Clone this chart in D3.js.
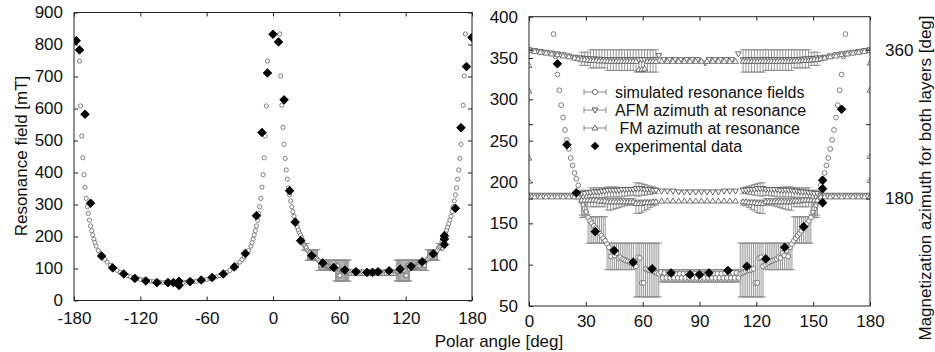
<!DOCTYPE html>
<html lang="en">
<head>
<meta charset="UTF-8">
<title>Resonance field vs polar angle</title>
<script src="https://cdn.jsdelivr.net/npm/d3@7"></script>
<style>
    body { margin: 0; background: #fff; }
    svg { display: block; }
    text { font-family: "Liberation Sans", Arial, Helvetica, sans-serif; fill: #111; }
</style>
</head>
<body>
<svg width="935" height="352"></svg>
<script>
// simulated resonance field, negative polar angles (no error bars) [deg, mT]
const simNeg = [
    [-175,748],[-174,608],[-173,514],[-172,446],[-171,393],[-170,354],[-169,319],[-168,293],[-167,272],[-166,251],
    [-165,233],[-164,218],[-163,205],[-162,192],[-161,181],[-160,170],[-158,156],[-156,146],[-154,137],[-152,128],
    [-150,120],[-147,110],[-144,101],[-141,94],[-138,88],[-135,83],[-132,78],[-129,74],[-126,71],[-123,68],
    [-120,66],[-117,64],[-114,62],[-111,60],[-108,59],[-105,58],[-102,57],[-99,56],[-96,56],[-93,56],
    [-90,56],[-87,56],[-84,56],[-81,57],[-78,57],[-75,58],[-72,59],[-69,60],[-66,62],[-63,64],
    [-60,66],[-57,68],[-54,71],[-51,74],[-48,78],[-45,83],[-42,88],[-39,94],[-36,101],[-33,110],
    [-30,120],[-28,128],[-26,137],[-24,146],[-22,156],[-20,170],[-19,181],[-18,192],[-17,205],[-16,218],
    [-15,233],[-14,251],[-13,272],[-12,293],[-11,319],[-10,354],[-9,393],[-8,446],[-7,514],[-6,608],[-5,748]
];

// simulated resonance field, positive polar angles [deg, mT, errLow, errHigh]
const simPos = [
    [6,833],[7,702],[8,610],[9,541],[10,488],[11,444],[12,408],[13,379],[14,352],[15,330],
    [16,311],[17,293],[18,278],[19,263],[20,251],[21,240],[22,229],[23,220],[24,211],[25,204],[26,196],[27,186],
    [27.8,176,157,178],[28.6,172,157,178],[29.4,168,157,178],[30.2,164,157,178],
    [31.2,157,126,158],[32.2,153,126,158],[33.2,150,126,158],[34.2,147,126,158],[35.2,144,126,158],
    [36.2,141,126,158],[37.2,138,126,158],[38.2,135,126,158],[39.2,132,126,158],[40.2,129,126,158],
    [41.2,125,94,126],[42.2,121,94,126],[43.2,110,94,126],[44.2,117,94,126],[45.2,111,94,126],
    [46.2,114,94,126],[47.2,108,94,126],[48.2,109,94,126],[49.2,107,94,126],[50.2,106,94,126],
    [51.2,105,94,126],[52.2,104,94,126],[53.2,103,94,126],[54.2,102,94,126],[55.2,100,94,126],
    [56.5,98,61,126],[57.5,109,61,126],[58.5,108,61,126],[59.5,78,61,126],[60.5,78,61,126],
    [61.5,95,61,126],[62.5,94,61,126],[63.5,93,61,126],[64.5,93,61,126],[65.5,92,61,126],
    [66.5,91,61,126],[67.5,90,61,126],[68.5,89,61,126],
    [69.5,91,79,94],[70.5,84,79,94],[71.5,90,79,94],[72.5,84,79,94],[73.5,90,79,94],[74.5,84,79,94],
    [75.5,90,79,94],[76.5,84,79,94],[77.5,89,79,94],[78.5,84,79,94],[79.5,89,79,94],[80.5,84,79,94],
    [81.5,89,79,94],[82.5,84,79,94],[83.5,89,79,94],[84.5,84,79,94],[85.5,89,79,94],[86.5,84,79,94],
    [87.5,89,79,94],[88.5,84,79,94],[89.5,89,79,94],[90.5,84,79,94],[91.5,89,79,94],[92.5,84,79,94],
    [93.5,89,79,94],[94.5,84,79,94],[95.5,89,79,94],[96.5,84,79,94],[97.5,89,79,94],[98.5,84,79,94],
    [99.5,89,79,94],[100.5,84,79,94],[101.5,89,79,94],[102.5,84,79,94],[103.5,90,79,94],[104.5,84,79,94],
    [105.5,90,79,94],[106.5,84,79,94],[107.5,90,79,94],[108.5,84,79,94],[109.5,90,79,94],[110.5,84,79,94],
    [111.5,89,61,126],[112.5,90,61,126],[113.5,91,61,126],[114.5,92,61,126],[115.5,93,61,126],
    [116.5,93,61,126],[117.5,94,61,126],[118.5,95,61,126],[119.5,78,61,126],[120.5,78,61,126],
    [121.5,108,61,126],[122.5,109,61,126],[123.5,98,61,126],
    [124.8,100,94,126],[125.8,102,94,126],[126.8,103,94,126],[127.8,104,94,126],[128.8,105,94,126],
    [129.8,106,94,126],[130.8,107,94,126],[131.8,109,94,126],[132.8,108,94,126],[133.8,114,94,126],
    [134.8,111,94,126],[135.8,117,94,126],[136.8,110,94,126],[137.8,121,94,126],[138.8,125,94,126],
    [139.8,129,126,158],[140.8,132,126,158],[141.8,135,126,158],[142.8,138,126,158],[143.8,141,126,158],
    [144.8,144,126,158],[145.8,147,126,158],[146.8,150,126,158],[147.8,153,126,158],[148.8,157,126,158],
    [149.8,164,157,178],[150.6,168,157,178],[151.4,172,157,178],[152.2,176,157,178],
    [153,186],[154,196],[155,204],[156,211],[157,220],[158,229],[159,240],[160,251],[161,263],[162,278],
    [163,293],[164,311],[165,330],[166,352],[167,379],[168,408],[169,444],[170,488],[171,541],[172,610],
    [173,702],[174,833]
];

// AFM azimuth at resonance [deg, deg, errLow, errHigh]
const afmHigh = [
    [0,360],[3,359],[6,358],[9,357],[12,356],[15,355],[18,354],[21,352.5],[24,351],[26,350],
    [27.8,350,341,357],[29.4,349.5,341,357],[31,349.5,341,357],
    [32.5,349,338,360],[34,349,338,360],[35.5,348.5,338,360],[37,348.5,338,360],[38.5,348,338,360],[40,348,338,360],
    [41.5,348,335,360],[43,348,335,360],[44.5,348,335,360],[46,348,335,360],[47.5,348,335,360],
    [49,348,335,360],[50.5,348,335,360],[52,348,335,360],[53.5,348,335,360],[55,348,335,360],
    [56.5,348,333,360],[58,348,333,360],[59.5,348,333,360],[61,348,333,360],[62.5,348,333,360],
    [64,348,333,360],[65.5,348,333,360],[67,348,333,360],
    [68.5,353],[71,348],[74,348],[77,348],[80,348],[83,348],[86,348],[89,348],[93,344],[95,348],
    [98,348],[101,348],[104,348],[107,348],[110.5,355],
    [113,348,333,360],[114.5,348,333,360],[116,348,333,360],[117.5,348,333,360],[119,348,333,360],
    [120.5,348,333,360],[122,348,333,360],[123.5,348,333,360],
    [125,348,335,360],[126.5,348,335,360],[128,348,335,360],[129.5,348,335,360],[131,348,335,360],
    [132.5,348,335,360],[134,348,335,360],[135.5,348,335,360],[137,348,335,360],[138.5,348,335,360],
    [140,348,338,360],[141.5,348,338,360],[143,348.5,338,360],[144.5,348.5,338,360],[146,349,338,360],[147.5,349,338,360],
    [149,349.5,341,357],[150.6,349.5,341,357],[152.2,350,341,357],
    [154,350],[156,351],[159,352.5],[162,354],[165,355],[168,356],[171,357],[174,358],[177,359],[180,360]
];
const afmLow = [
    [0,184],[3,184],[6,184],[9,184],[12,184],[15,184],[18,184],[21,184],[24,184],[26,184],
    [27.8,186,180,190],[29.4,186,180,190],[31,187,180,190],
    [32.5,187,181,193],[34,188,181,193],[35.5,188,181,193],[37,188,181,193],[38.5,189,181,193],[40,189,181,193],
    [41.5,190,182,194],[43,190,182,194],[44.5,190,182,194],[46,190,182,194],[47.5,190,182,193],
    [49,191,182,193],[50.5,191,183,193],[52,191,183,192],[53.5,191,184,192],[55,191,184,192],
    [56.5,192,183,199],[58,192,183,199],[59.5,192,184,198],[61,191,184,197],[62.5,191,185,196],
    [64,191,185,195],[65.5,190,186,194],[67,190,186,193],
    [70,189],[73,189],[76,189],[79,188],[82,188],[85,188],[88,188],[91,188],[94,188],[97,188],
    [100,188],[103,189],[106,189],[109,189],
    [113,190,186,193],[114.5,190,186,194],[116,191,185,195],[117.5,191,185,196],[119,191,184,197],
    [120.5,192,184,198],[122,192,183,199],[123.5,192,183,199],
    [125,191,184,192],[126.5,191,184,192],[128,191,183,192],[129.5,191,183,193],[131,191,182,193],
    [132.5,190,182,193],[134,190,182,194],[135.5,190,182,194],[137,190,182,194],[138.5,190,182,194],
    [140,189,181,193],[141.5,189,181,193],[143,188,181,193],[144.5,188,181,193],[146,188,181,193],[147.5,187,181,193],
    [149,187,180,190],[150.6,186,180,190],[152.2,186,180,190],
    [154,184],[156,184],[159,184],[162,184],[165,184],[168,184],[171,184],[174,184],[177,184],[180,184]
];

// FM azimuth at resonance [deg, deg, errLow, errHigh]
const fmHigh = [
    [0,359],[0,341],[0,310],[0,229],[3,358],[6,357],[9,356],[12,355],[15,354],[18,352.5],[21,351.5],[24,350],[26,349],
    [27.8,348],[29.4,348],[31,347.5],[32.5,347],[34,347],[35.5,347],[37,346.5],[38.5,346.5],[40,346.5],
    [41.5,346],[43,346],[44.5,346],[46,346],[47.5,346],[49,346],[50.5,346],[52,346],[53.5,346],[55,346],
    [56.5,346],[58,336],[59.5,336],[61,337],[62.5,346],[64,346],[65.5,346],[67,346],
    [70,346],[73,346],[76,346],[79,346],[82,346],[85,346],[88,346],[91,346],[94,346],[97,346],
    [100,346],[103,346],[106,346],[109,346],
    [113,346],[114.5,346],[116,346],[117.5,346],[119,346],[120.5,346],[122,346],[123.5,346],
    [125,346],[126.5,346],[128,346],[129.5,346],[131,346],[132.5,346],[134,346],[135.5,346],[137,346],[138.5,346],
    [140,346.5],[141.5,346.5],[143,346.5],[144.5,347],[146,347],[147.5,347],[149,347.5],[150.6,348],[152.2,348],
    [154,349],[156,350],[159,351.5],[162,352.5],[165,354],[168,355],[171,356],[174,357],[177,358],
    [180,359],[180,344],[180,311],[180,231]
];
const fmLow = [
    [0,182],[0,201],[3,182],[6,182],[9,182],[12,182],[15,182],[18,182],[21,182],[24,182],[26,182],
    [27.8,178,160,179],[29.4,178,160,179],[31,178,161,179],
    [32.5,178,170,181],[34,178,170,181],[35.5,178,170,181],[37,177,170,181],[38.5,177,170,181],[40,177,170,181],
    [41.5,176,166,180],[43,176,166,180],[44.5,176,167,180],[46,176,168,180],[47.5,176,169,180],
    [49,176,170,180],[50.5,176,171,180],[52,176,172,180],[53.5,176,172,180],[55,176,173,180],
    [56.5,174,162,178],[58,174,162,178],[59.5,174,163,178],[61,175,165,178],[62.5,175,167,178],
    [64,175,169,178],[65.5,176,171,178],[67,176,172,178],
    [70,177],[73,177],[76,177],[79,177],[82,177],[85,177],[88,177],[91,177],[94,177],[97,177],
    [100,177],[103,177],[106,177],[109,177],
    [113,176,172,178],[114.5,176,171,178],[116,175,169,178],[117.5,175,167,178],[119,175,165,178],
    [120.5,174,163,178],[122,174,162,178],[123.5,174,162,178],
    [125,176,173,180],[126.5,176,172,180],[128,176,172,180],[129.5,176,171,180],[131,176,170,180],
    [132.5,176,169,180],[134,176,168,180],[135.5,176,167,180],[137,176,166,180],[138.5,176,166,180],
    [140,177,170,181],[141.5,177,170,181],[143,177,170,181],[144.5,178,170,181],[146,178,170,181],[147.5,178,170,181],
    [149,178,161,179],[150.6,178,160,179],[152.2,178,160,179],
    [154,182],[156,182],[159,182],[162,182],[165,182],[168,182],[171,182],[174,182],[177,182],[180,182],[180,202]
];

// experimental data [deg, mT]
const expNeg = [
    [-178,812],[-175,783],[-170,582],[-165,304],[-155,139],[-145,102],[-135,83],[-125,69],[-115,61],
    [-105,56],[-95,56],[-90,56],[-85,60],[-85,47],[-75,59],[-65,64],[-55,72],[-45,83],[-35,105],
    [-25,147],[-15,265],[-10,525],[-5,711],[0,832]
];
const expPos = [
    [5,808],[10,627],[15,343],[20,245],[25,187],[35,140],[45,117],[55,103],[65,95],[75,90],[85,88],
    [90,88],[95,90],[105,93],[115,98],[125,107],[135,121],[145,146],[155,175],[155,192],[155,202],
    [165,288],[170,540],[175,731],[180,822]
];

const leftXTicks = [-180,-120,-60,0,60,120,180];
const leftYTicks = [0,100,200,300,400,500,600,700,800,900];
const rightXTicks = [0,30,60,90,120,150,180];
const rightYTicks = [50,100,150,200,250,300,350,400];
const rightY2Ticks = [180,360];

const legendLabels = ["simulated resonance fields", "AFM azimuth at resonance", " FM azimuth at resonance", "experimental data"];

const svg = d3.select("svg");
svg.append("rect").attr("width", 935).attr("height", 352).attr("fill", "#fff");

const xL = d3.scaleLinear().domain([-180, 180]).range([74, 472]);
const yL = d3.scaleLinear().domain([0, 900]).range([300.5, 12.5]);
const xR = d3.scaleLinear().domain([0, 180]).range([529, 870]);
const yR = d3.scaleLinear().domain([50, 400]).range([306, 16.7]);

const FONT = 17;
const LEG_FONT = 16;
const diamond = "M0,-4.3L4.3,0L0,4.3L-4.3,0Z";
const triDown = "M-2.9,-2L2.9,-2L0,3.1Z";
const triUp = "M-2.9,2L2.9,2L0,-3.1Z";

function styleAxis(g) {
    g.select(".domain").remove();
    g.selectAll("line").attr("stroke", "#222");
    g.selectAll("text").attr("font-size", FONT).attr("font-family", '"Liberation Sans", Arial, sans-serif').attr("fill", "#111");
}

function frame(x, y, xt, yt, id, pad) {
    const [x0, x1] = x.range(), [y0, y1] = y.range();
    svg.append("g").attr("transform", `translate(0,${y0})`)
        .call(d3.axisBottom(x).tickValues(xt).tickSize(-4).tickPadding(pad).tickFormat(d => String(d)))
        .call(styleAxis);
    svg.append("g").attr("transform", `translate(0,${y1})`)
        .call(d3.axisTop(x).tickValues(xt).tickSize(-4).tickFormat(""))
        .call(styleAxis);
    svg.append("g").attr("transform", `translate(${x0},0)`)
        .call(d3.axisLeft(y).tickValues(yt).tickSize(-4).tickPadding(11).tickFormat(d => String(d)))
        .call(styleAxis);
    svg.append("clipPath").attr("id", id)
        .append("rect").attr("x", x0).attr("y", y1).attr("width", x1 - x0).attr("height", y0 - y1);
    return svg.append("g").attr("clip-path", `url(#${id})`);
}

function border(x, y) {
    const [x0, x1] = x.range(), [y0, y1] = y.range();
    svg.append("rect").attr("x", x0).attr("y", y1).attr("width", x1 - x0).attr("height", y0 - y1)
        .attr("fill", "none").attr("stroke", "#222").attr("stroke-width", 1);
}

function inRange(x, y) {
    const [xa, xb] = x.domain(), [ya, yb] = y.domain();
    return d => d[0] >= xa && d[0] <= xb && d[1] >= ya && d[1] <= yb;
}

function bars(g, data, x, y, cap) {
    const withErr = data.filter(d => d.length > 2);
    const b = g.append("g").attr("stroke", "#8c8c8c").attr("stroke-width", 0.9);
    b.selectAll("line.v").data(withErr).join("line").attr("class", "v")
        .attr("x1", d => x(d[0])).attr("x2", d => x(d[0]))
        .attr("y1", d => y(d[2])).attr("y2", d => y(d[3]));
    b.selectAll("line.lo").data(withErr).join("line").attr("class", "lo")
        .attr("x1", d => x(d[0]) - cap).attr("x2", d => x(d[0]) + cap)
        .attr("y1", d => y(d[2])).attr("y2", d => y(d[2]));
    b.selectAll("line.hi").data(withErr).join("line").attr("class", "hi")
        .attr("x1", d => x(d[0]) - cap).attr("x2", d => x(d[0]) + cap)
        .attr("y1", d => y(d[3])).attr("y2", d => y(d[3]));
}

function circles(g, data, x, y, r) {
    g.append("g").selectAll("circle").data(data.filter(inRange(x, y))).join("circle")
        .attr("cx", d => x(d[0])).attr("cy", d => y(d[1])).attr("r", r)
        .attr("fill", "#fff").attr("stroke", "#707070").attr("stroke-width", 0.9);
}

function symbols(g, data, x, y, path, fill, stroke) {
    g.append("g").selectAll("path").data(data.filter(inRange(x, y))).join("path")
        .attr("d", path).attr("transform", d => `translate(${x(d[0])},${y(d[1])})`)
        .attr("fill", fill).attr("stroke", stroke).attr("stroke-width", 0.9);
}

// ---- left panel ----
const gL = frame(xL, yL, leftXTicks, leftYTicks, "clipL", 11);
svg.append("g").attr("transform", `translate(${xL.range()[1]},0)`)
    .call(d3.axisRight(yL).tickValues(leftYTicks).tickSize(-4).tickFormat(""))
    .call(styleAxis);
bars(gL, simPos, xL, yL, 3);
circles(gL, simNeg, xL, yL, 2.1);
circles(gL, simPos, xL, yL, 2.1);
symbols(gL, expNeg.concat(expPos), xL, yL, diamond, "#000", "#000");
border(xL, yL);

// ---- right panel ----
const gR = frame(xR, yR, rightXTicks, rightYTicks, "clipR", 9);
svg.append("g").attr("transform", `translate(${xR.range()[1]},0)`)
    .call(d3.axisRight(yR).tickValues([180, 270, 360]).tickSize(-4).tickPadding(15).tickFormat(d => rightY2Ticks.includes(d) ? String(d) : ""))
    .call(styleAxis);
svg.append("g").attr("transform", `translate(${xR.range()[0]},0)`)
    .call(d3.axisLeft(yR).tickValues([180, 270, 360]).tickSize(-4).tickFormat(""))
    .call(styleAxis);

bars(gR, simPos, xR, yR, 3);
circles(gR, simPos, xR, yR, 2.4);
bars(gR, afmHigh, xR, yR, 3);
bars(gR, afmLow, xR, yR, 3);
symbols(gR, afmHigh, xR, yR, triDown, "#fff", "#555");
symbols(gR, afmLow, xR, yR, triDown, "#fff", "#555");
bars(gR, fmLow, xR, yR, 3);
symbols(gR, fmHigh, xR, yR, triUp, "#fff", "#666");
symbols(gR, fmLow, xR, yR, triUp, "#fff", "#666");
symbols(gR, expPos, xR, yR, diamond, "#000", "#000");
border(xR, yR);

// ---- legend ----
const legY = [92, 110, 128, 146];
const leg = svg.append("g");
legendLabels.forEach((label, i) => {
    const y = legY[i];
    if (i < 3) {
        leg.append("line").attr("x1", 584).attr("x2", 606).attr("y1", y).attr("y2", y).attr("stroke", "#8a8a8a");
        leg.append("line").attr("x1", 584).attr("x2", 584).attr("y1", y - 3).attr("y2", y + 3).attr("stroke", "#8a8a8a");
        leg.append("line").attr("x1", 606).attr("x2", 606).attr("y1", y - 3).attr("y2", y + 3).attr("stroke", "#8a8a8a");
    }
    if (i === 0) leg.append("circle").attr("cx", 595).attr("cy", y).attr("r", 2.6).attr("fill", "#fff").attr("stroke", "#707070");
    if (i === 1) leg.append("path").attr("d", triDown).attr("transform", `translate(595,${y})`).attr("fill", "#fff").attr("stroke", "#555");
    if (i === 2) leg.append("path").attr("d", triUp).attr("transform", `translate(595,${y})`).attr("fill", "#fff").attr("stroke", "#666");
    if (i === 3) leg.append("path").attr("d", diamond).attr("transform", `translate(595,${y})`).attr("fill", "#000");
    leg.append("text").attr("x", 615).attr("y", y + 6).attr("font-size", LEG_FONT)
        .attr("xml:space", "preserve").text(label);
});

// ---- axis titles ----
svg.append("text").attr("transform", "translate(27,156) rotate(-90)").attr("text-anchor", "middle")
    .attr("font-size", FONT).text("Resonance field [mT]");
svg.append("text").attr("x", 499).attr("y", 346.5).attr("text-anchor", "middle")
    .attr("font-size", FONT).text("Polar angle [deg]");
svg.append("text").attr("transform", "translate(931,178) rotate(-90)").attr("text-anchor", "middle")
    .attr("font-size", FONT).text("Magnetization azimuth for both layers [deg]");
</script>
</body>
</html>
